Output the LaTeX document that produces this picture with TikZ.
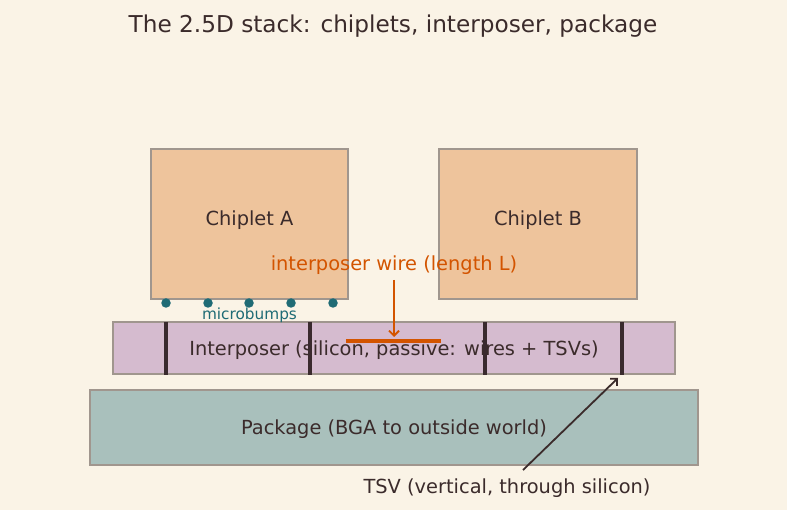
\documentclass[tikz,border=0pt]{standalone}
\usepackage{fontspec}
\setmainfont{DejaVu Sans}
\usetikzlibrary{arrows.meta}
\definecolor{bg}{HTML}{FAF3E6}
\definecolor{chip}{HTML}{EEC49C}
\definecolor{interp}{HTML}{D5BBCF}
\definecolor{pkg}{HTML}{A9C0BC}
\definecolor{edge}{HTML}{A0968E}
\definecolor{ink}{HTML}{3B2B2B}
\definecolor{teal}{HTML}{1F6B75}
\definecolor{wire}{HTML}{D35400}
\definecolor{tsv}{HTML}{3A2A2E}
\begin{document}
\begin{tikzpicture}[x=1pt,y=-1pt,
  box/.style={draw=edge,line width=1.4pt,inner sep=0pt},
  lab/.style={text=ink,font=\fontsize{19.4}{22}\selectfont,inner sep=0pt},
  bump/.style={circle,fill=teal,inner sep=0pt,minimum size=9.5pt},
  tsvline/.style={draw=tsv,line width=3.2pt},
  arr/.style={-{Straight Barb[length=5pt,width=10pt,line width=1.8pt]},line width=1.8pt}
]
\fill[bg] (0,0) rectangle (787,510);
\useasboundingbox (0,0) rectangle (787,510);
\node[text=ink,font=\fontsize{23.2}{27}\selectfont,inner sep=0pt] (title) at (393,26.5) {The 2.5D stack: chiplets, interposer, package};
% chiplets
\draw[box,fill=chip] (151,149) rectangle (348,299);
\node[lab] (ca) at (249.5,220.5) {Chiplet A};
\draw[box,fill=chip] (439,149) rectangle (637,299);
\node[lab] (cb) at (538,220.5) {Chiplet B};
% package
\draw[box,fill=pkg] (90,390) rectangle (698,465);
\node[lab] (pk) at (394,429.5) {Package (BGA to outside world)};
% interposer
\draw[box,fill=interp] (113,322) rectangle (675,374);
\node[lab] (ip) at (394,350.5) {Interposer (silicon, passive: wires + TSVs)};
% TSVs
\foreach \x/\n in {166/1,310/2,485/3,622/4}{
  \coordinate (ttop\n) at (\x,322);
  \coordinate (tbot\n) at (\x,375.5);
  \draw[tsvline] (ttop\n) -- (tbot\n);
}
% wire
\coordinate (w1) at (346,341);
\coordinate (w2) at (441,341);
\draw[draw=wire,line width=4.5pt] (w1) -- (w2);
\node[text=wire,font=\fontsize{19.4}{22}\selectfont,inner sep=0pt] (wl) at (394,265.5) {interposer wire (length L)};
\coordinate (wa) at (394,280);
\coordinate (wb) at (394,337);
\draw[arr,draw=wire] (wa) -- (wb);
% microbumps
\foreach \x/\n in {166/1,208/2,249/3,291/4,333/5}{
  \node[bump] (b\n) at (\x,303) {};
}
\node[text=teal,font=\fontsize{15.3}{18}\selectfont,inner sep=0pt] (mb) at (249.5,315) {microbumps};
% TSV label
\node[lab] (tl) at (507,488.5) {TSV (vertical, through silicon)};
\coordinate (ta) at (523,470);
\coordinate (tb) at (618,378);
\draw[arr,draw=ink] (ta) -- (tb);
\end{tikzpicture}
\end{document}
